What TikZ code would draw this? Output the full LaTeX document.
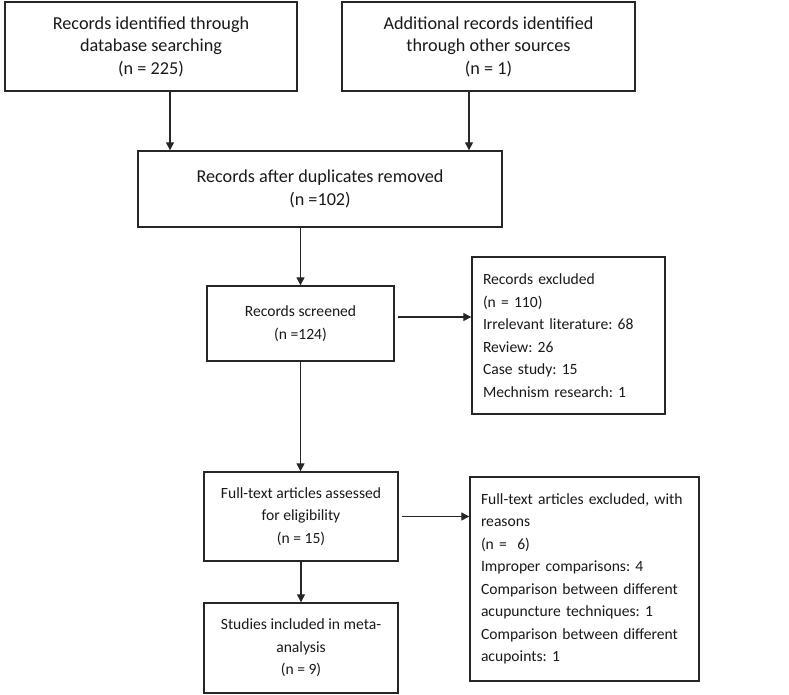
\documentclass[tikz,border=0pt]{standalone}
\usepackage{fontspec}
\setmainfont{Carlito}
\usetikzlibrary{arrows.meta}
\frenchspacing

\newcommand{\toptext}{\fontsize{18.2}{22.5}\selectfont}
\newcommand{\lowtext}{\fontsize{15.6}{22.5}\selectfont}

\tikzset{
  flowbox/.style={draw=black!85, line width=1.4pt, align=center, inner sep=0pt,
    font=\toptext, text=black!90},
  lowbox/.style={flowbox, font=\lowtext},
  notebox/.style={lowbox, align=left, inner xsep=11pt, inner ysep=0pt},
  flowarrow/.style={draw=black!85, line width=1.3pt, -{Triangle[width=8pt,length=8pt]}}
}

\begin{document}
\begin{tikzpicture}[x=1pt, y=-1pt]
\useasboundingbox (0,0) rectangle (789,695);

\node[flowbox, minimum width=292, minimum height=89] (ident) at (151,46.5)
  {Records identified through\\database searching\\(n = 225)};
\node[flowbox, minimum width=293, minimum height=89] (other) at (488.5,46.5)
  {Additional records identified\\through other sources\\(n = 1)};
\node[flowbox, minimum width=364, minimum height=76] (dupl) at (320,189)
  {Records after duplicates removed\\(n =102)};
\node[lowbox, minimum width=187, minimum height=75] (screen) at (300.5,323.5)
  {Records screened\\(n =124)};
\node[notebox, text width=171, minimum height=157] (excl) at (568.5,335.5)
  {Records excluded\\(n = 110)\\Irrelevant literature: 68\\Review: 26\\Case study: 15\\Mechnism research: 1};
\node[lowbox, minimum width=194, minimum height=89] (full) at (301,516.5)
  {Full-text articles assessed\\for eligibility\\(n = 15)};
\node[notebox, text width=207, minimum height=204] (fullexcl) at (584.5,579)
  {Full-text articles excluded, with\\reasons\\(n =\ \ 6)\\Improper comparisons: 4\\Comparison between different\\acupuncture techniques: 1\\Comparison between different\\acupoints: 1};
\node[lowbox, minimum width=194, minimum height=90] (incl) at (301,648)
  {Studies included in meta-\\analysis\\(n = 9)};

\draw[flowarrow] ([xshift=19pt]ident.south) -- ([xshift=19pt]ident.south |- dupl.north);
\draw[flowarrow] ([xshift=-19.5pt]other.south) -- ([xshift=-19.5pt]other.south |- dupl.north);
\draw[flowarrow] (screen.north |- dupl.south) -- (screen.north);
\draw[flowarrow, shorten <=3pt] ([yshift=6.5pt]screen.east) -- ([yshift=6.5pt]excl.west |- screen.east);
\draw[flowarrow] (screen.south) -- (screen.south |- full.north);
\draw[flowarrow, shorten <=3pt] (full.east) -- (fullexcl.west |- full.east);
\draw[flowarrow] (full.south) -- (incl.north);

\end{tikzpicture}
\end{document}
